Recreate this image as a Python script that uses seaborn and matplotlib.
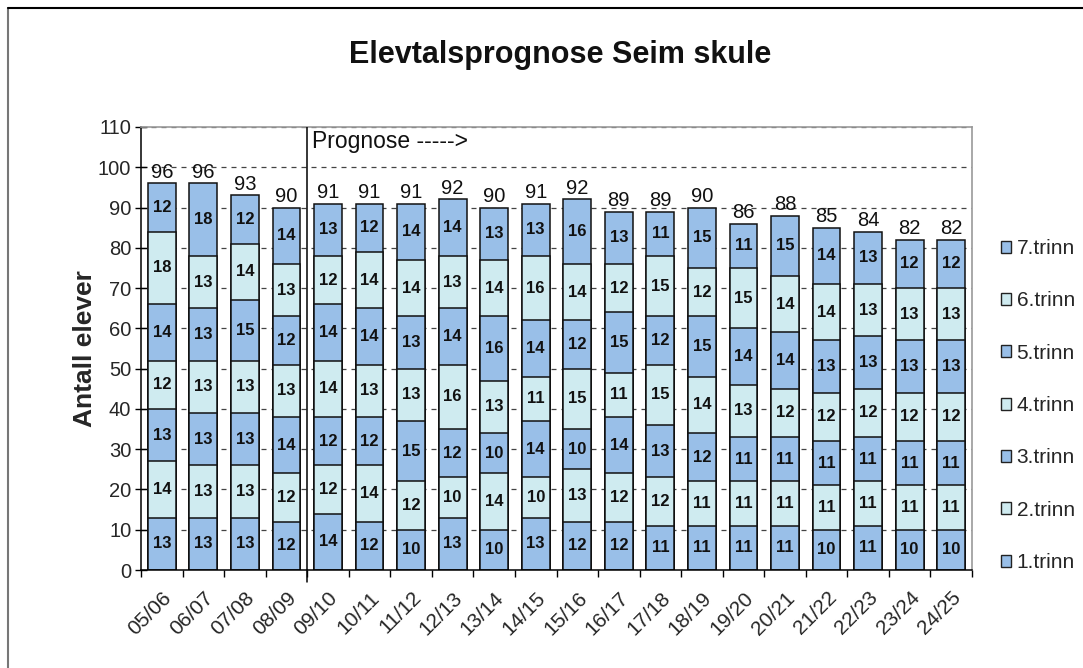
import matplotlib
matplotlib.use("Agg")
import matplotlib.pyplot as plt
import seaborn as sns
import numpy as np
import pandas as pd
from matplotlib.patches import Patch
from matplotlib.lines import Line2D

years = ["05/06", "06/07", "07/08", "08/09", "09/10", "10/11", "11/12", "12/13", "13/14", "14/15",
         "15/16", "16/17", "17/18", "18/19", "19/20", "20/21", "21/22", "22/23", "23/24", "24/25"]
grades = ["1.trinn", "2.trinn", "3.trinn", "4.trinn", "5.trinn", "6.trinn", "7.trinn"]
trinn1 = [13, 13, 13, 12, 14, 12, 10, 13, 10, 13, 12, 12, 11, 11, 11, 11, 10, 11, 10, 10]
trinn2 = [14, 13, 13, 12, 12, 14, 12, 10, 14, 10, 13, 12, 12, 11, 11, 11, 11, 11, 11, 11]
trinn3 = [13, 13, 13, 14, 12, 12, 15, 12, 10, 14, 10, 14, 13, 12, 11, 11, 11, 11, 11, 11]
trinn4 = [12, 13, 13, 13, 14, 13, 13, 16, 13, 11, 15, 11, 15, 14, 13, 12, 12, 12, 12, 12]
trinn5 = [14, 13, 15, 12, 14, 14, 13, 14, 16, 14, 12, 15, 12, 15, 14, 14, 13, 13, 13, 13]
trinn6 = [18, 13, 14, 13, 12, 14, 14, 13, 14, 16, 14, 12, 15, 12, 15, 14, 14, 13, 13, 13]
trinn7 = [12, 18, 12, 14, 13, 12, 14, 14, 13, 13, 16, 13, 11, 15, 11, 15, 14, 13, 12, 12]
series = [trinn1, trinn2, trinn3, trinn4, trinn5, trinn6, trinn7]

dark = "#99BFE8"
light = "#CFEBF0"
colors = [dark, light, dark, light, dark, light, dark]

sns.set_theme(style="white")
plt.rcParams["font.family"] = ["Liberation Sans", "DejaVu Sans"]

fig = plt.figure(figsize=(10.83, 6.68), dpi=100)
ax = fig.add_axes([141 / 1083, 1 - 570 / 668, (972 - 141) / 1083, (570 - 127) / 668])

vals = np.array(series)
cum = np.cumsum(vals, axis=0)

# grid behind
for yv in range(10, 111, 10):
    ax.axhline(yv, color="#444444", lw=0.9, ls=(0, (4, 4)), zorder=0)

# draw cumulative bars from top layer down (seaborn barplot)
for k in range(len(grades) - 1, -1, -1):
    df = pd.DataFrame({"year": years, "value": cum[k]})
    sns.barplot(data=df, x="year", y="value", color=colors[k], saturation=1,
                width=0.67, edgecolor="#111111", linewidth=1.1, ax=ax, zorder=2,
                errorbar=None)

# segment labels
for k in range(len(grades)):
    for i in range(len(years)):
        mid = cum[k][i] - vals[k][i] / 2
        ax.text(i, mid, str(vals[k][i]), ha="center", va="center", fontsize=12,
                fontweight="bold", color="#111111", zorder=4)

# totals
for i in range(len(years)):
    ax.text(i, cum[-1][i] + 0.4, str(cum[-1][i]), ha="center", va="bottom",
            fontsize=14.5, color="#111111", zorder=4)

ax.set_xlim(-0.5, len(years) - 0.5)
ax.set_ylim(0, 110)
ax.set_yticks(range(0, 111, 10))
ax.set_yticklabels([str(v) for v in range(0, 111, 10)], fontsize=14.5)
ax.tick_params(axis="y", direction="inout", length=8, width=1, color="black", pad=3, left=True)

ax.set_xticks(range(len(years)))
ax.set_xticklabels(years, rotation=45, ha="right", rotation_mode="anchor", fontsize=15)
ax.tick_params(axis="x", which="major", length=0, pad=13)
ax.set_xticks(np.arange(-0.5, len(years), 1.0), minor=True)
ax.tick_params(axis="x", which="minor", direction="out", length=5, width=1, color="black", bottom=True)
ax.set_xlabel("")

# prognose divider
ax.axvline(3.5, color="black", lw=1.1, zorder=3)
ax.plot([3.5, 3.5], [0, -3], color="black", lw=1.1, clip_on=False)
ax.text(3.62, 106.3, "Prognose ----->", fontsize=16.5, ha="left", va="center", color="#111111")

ax.set_ylabel("Antall elever", fontsize=19, fontweight="bold")
ax.yaxis.set_label_coords((97 - 141) / 831, 0.5)

for s in ["left", "bottom"]:
    ax.spines[s].set_color("black")
    ax.spines[s].set_linewidth(1.1)
for s in ["top", "right"]:
    ax.spines[s].set_color("#999999")
    ax.spines[s].set_linewidth(1.2)

fig.text(0.517, 1 - 55 / 668, "Elevtalsprognose Seim skule", ha="center", va="center",
         fontsize=22, fontweight="bold", color="#111111")

handles = [Patch(facecolor=colors[k], edgecolor="#222222", linewidth=1) for k in range(6, -1, -1)]
labels = [grades[k] for k in range(6, -1, -1)]
fig.legend(handles, labels, loc="upper left", bbox_to_anchor=(1001 / 1083, 1 - 239 / 668),
           frameon=False, fontsize=15, handlelength=0.5, handleheight=0.5,
           handletextpad=0.25, labelspacing=1.6, borderaxespad=0, borderpad=0)

# outer chart border (top and left visible)
fig.add_artist(Line2D([8 / 1083, 8 / 1083], [0, 1 - 8 / 668], transform=fig.transFigure,
                      color="#777777", lw=1.5))
fig.add_artist(Line2D([8 / 1083, 1], [1 - 8 / 668, 1 - 8 / 668], transform=fig.transFigure,
                      color="black", lw=1.5))

fig.savefig("out.png", dpi=100)
